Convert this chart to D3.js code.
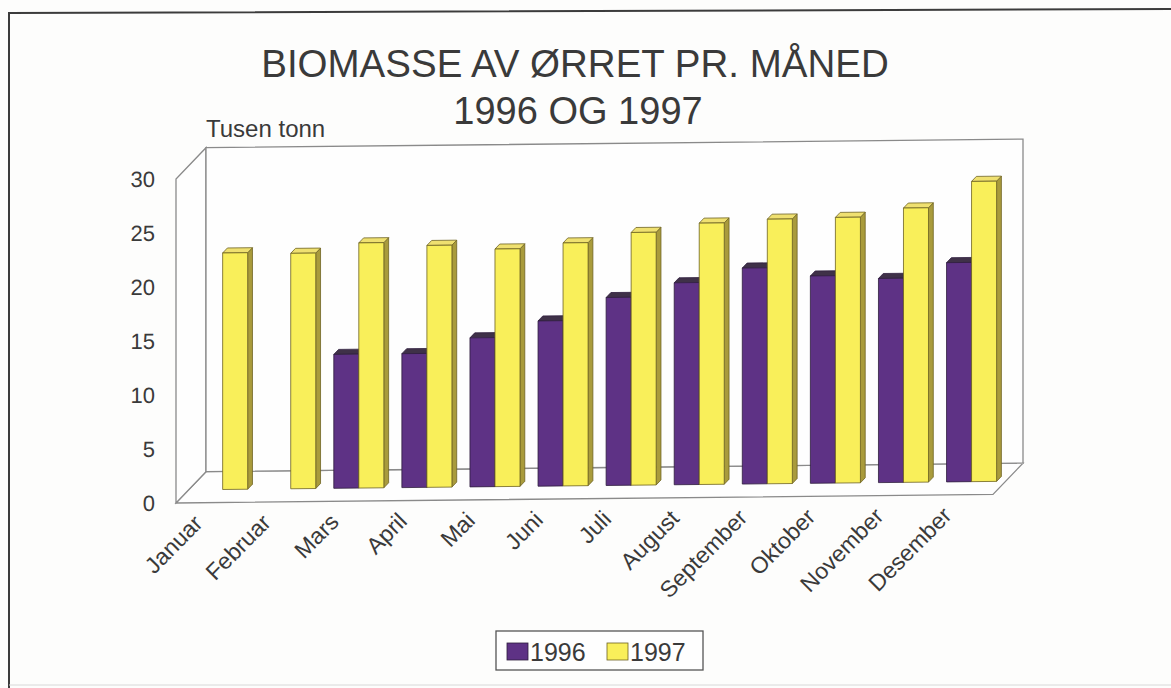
<!DOCTYPE html>
<html>
<head>
<meta charset="utf-8">
<script src="https://cdn.jsdelivr.net/npm/d3@7"></script>
<style>
  body { margin: 0; background: #fdfdfc; }
  text { font-family: "Liberation Sans", Arial, sans-serif; fill: #3a3a3a; }
</style>
</head>
<body>
<script>
// data (tusen tonn)
var months = ["Januar", "Februar", "Mars", "April", "Mai", "Juni", "Juli",
              "August", "September", "Oktober", "November", "Desember"];
var years = ["1996", "1997"];
var values1996 = [null, null, 12.4, 12.4, 13.8, 15.3, 17.4, 18.7, 20.0, 19.2, 18.9, 20.3];
var values1997 = [21.9, 21.8, 22.7, 22.4, 22.0, 22.5, 23.4, 24.2, 24.5, 24.6, 25.4, 27.8];
var yTicks = [0, 5, 10, 15, 20, 25, 30];

var W = 1171, H = 688;
var DX = 30, DY = -31;          // depth offset of the 3d box
var colors = {
  "1996": { front: "#5e3285", top: "#3f3148", side: "#3a2250", stroke: "#2e1d3d" },
  "1997": { front: "#f9ef5a", top: "#efe070", side: "#a99b3c", stroke: "#6e6322" }
};

var svg = d3.select("body").append("svg")
    .attr("width", W)
    .attr("height", H);

svg.append("rect").attr("width", W).attr("height", H).attr("fill", "#fdfdfc");

// outer frame
svg.append("path")
    .attr("d", "M9,688 L9,13 L1171,9")
    .attr("fill", "none")
    .attr("stroke", "#3c3c3c")
    .attr("stroke-width", 2);
svg.append("line")
    .attr("x1", 9).attr("y1", 685).attr("x2", 1171).attr("y2", 685)
    .attr("stroke", "#d8d8d8").attr("stroke-width", 1);

// titles
svg.append("text").attr("x", 575).attr("y", 77)
    .attr("text-anchor", "middle").style("font-size", "38.5px")
    .text("BIOMASSE AV ØRRET PR. MÅNED");
svg.append("text").attr("x", 578).attr("y", 124)
    .attr("text-anchor", "middle").style("font-size", "38px")
    .text("1996 OG 1997");
svg.append("text").attr("x", 206).attr("y", 137)
    .style("font-size", "24px")
    .text("Tusen tonn");

// plot, slightly skewed like the scan
var plot = svg.append("g").attr("transform", "translate(176,503) skewY(-0.6)");

var x = d3.scaleBand().domain(months).range([0, 817])
    .paddingInner(0.265).paddingOuter(0.1325);
var x1 = d3.scaleBand().domain(years).range([0, x.bandwidth()]);
var y = d3.scaleLinear().domain([0, 30]).range([0, -324]);

function pt(px, py, d) { return [px + DX * d, py + DY * d]; }
function poly(points) { return "M" + points.map(function(p) { return p.join(","); }).join("L") + "Z"; }

var wallStroke = "#8a8a8a";
var x0 = 0, xe = 817, yt = y(30);
// floor
plot.append("path")
    .attr("d", poly([pt(x0, 0, 0), pt(xe, 0, 0), pt(xe, 0, 1), pt(x0, 0, 1)]))
    .attr("fill", "#fefefe").attr("stroke", wallStroke).attr("stroke-width", 1.3);
// left wall
plot.append("path")
    .attr("d", poly([pt(x0, 0, 0), pt(x0, yt, 0), pt(x0, yt, 1), pt(x0, 0, 1)]))
    .attr("fill", "#fefefe").attr("stroke", wallStroke).attr("stroke-width", 1.3);
// back wall
plot.append("path")
    .attr("d", poly([pt(x0, 0, 1), pt(x0, yt, 1), pt(xe, yt, 1), pt(xe, 0, 1)]))
    .attr("fill", "#fefefe").attr("stroke", wallStroke).attr("stroke-width", 1.3);

// y axis labels
var yAxis = d3.axisLeft(y).tickValues(yTicks).tickSize(0).tickPadding(21);
plot.append("g").call(yAxis)
    .call(function(g) { g.select(".domain").remove(); })
    .selectAll("text")
    .style("font-size", "22px")
    .attr("fill", "#3a3a3a");

// bars, front depth 0.42 .. back 0.58
var d1 = 0.42, d2 = 0.58;
var bars = [];
months.forEach(function(m, i) {
  [[years[0], values1996[i]], [years[1], values1997[i]]].forEach(function(s) {
    if (s[1] !== null) bars.push({ month: m, year: s[0], value: s[1] });
  });
});

var bar = plot.selectAll("g.bar").data(bars).enter().append("g").attr("class", "bar");
bar.each(function(d) {
  var g = d3.select(this);
  var c = colors[d.year];
  var bx = x(d.month) + x1(d.year), bw = x1.bandwidth(), by = y(d.value);
  // side
  g.append("path")
      .attr("d", poly([pt(bx + bw, 0, d1), pt(bx + bw, by, d1), pt(bx + bw, by, d2), pt(bx + bw, 0, d2)]))
      .attr("fill", c.side).attr("stroke", c.stroke).attr("stroke-width", 0.8);
  // top
  g.append("path")
      .attr("d", poly([pt(bx, by, d1), pt(bx + bw, by, d1), pt(bx + bw, by, d2), pt(bx, by, d2)]))
      .attr("fill", c.top).attr("stroke", c.stroke).attr("stroke-width", 0.8);
  // front
  g.append("path")
      .attr("d", poly([pt(bx, 0, d1), pt(bx, by, d1), pt(bx + bw, by, d1), pt(bx + bw, 0, d1)]))
      .attr("fill", c.front).attr("stroke", c.stroke).attr("stroke-width", 0.8);
});

// month labels, rotated
plot.selectAll("text.month").data(months).enter().append("text")
    .attr("class", "month")
    .attr("text-anchor", "end")
    .attr("transform", function(m) {
      return "translate(" + (x(m) + x.bandwidth() / 2 - 6) + ",22) rotate(-45)";
    })
    .style("font-size", "23px")
    .text(function(m) { return m; });

// legend
var leg = svg.append("g").attr("transform", "translate(496,631)");
leg.append("rect").attr("width", 207).attr("height", 39)
    .attr("fill", "#fefefe").attr("stroke", "#555").attr("stroke-width", 1.3);
years.forEach(function(yr, i) {
  var lx = 11 + i * 100;
  leg.append("rect").attr("x", lx).attr("y", 12).attr("width", 21).attr("height", 17)
      .attr("fill", colors[yr].front).attr("stroke", colors[yr].stroke).attr("stroke-width", 0.8);
  leg.append("text").attr("x", lx + 23).attr("y", 30)
      .style("font-size", "25px").text(yr);
});
</script>
</body>
</html>
